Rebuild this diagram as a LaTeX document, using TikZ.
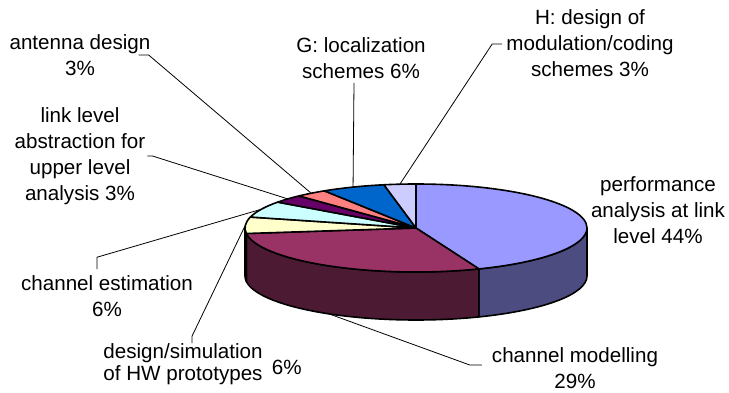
\documentclass[tikz,border=0pt]{standalone}
\usepackage{fontspec}
\setmainfont{Liberation Sans}
\usetikzlibrary{positioning}
\definecolor{perfTop}{HTML}{9999FF}
\definecolor{perfSide}{HTML}{4C4C80}
\definecolor{chmodTop}{HTML}{993366}
\definecolor{chmodSide}{HTML}{4C1A33}
\definecolor{hwTop}{HTML}{FFFFCC}
\definecolor{hwSide}{HTML}{808066}
\definecolor{chestTop}{HTML}{CCFFFF}
\definecolor{linkTop}{HTML}{660066}
\definecolor{antTop}{HTML}{FF8080}
\definecolor{locTop}{HTML}{0066CC}
\definecolor{modTop}{HTML}{CCCCFF}
\tikzset{
    lbl/.style ={font=\fontsize{20.6}{26}\selectfont, align=center, inner sep=0pt},
    lead/.style ={line width=0.8pt, draw=black},
    slice/.style ={line width=1.6pt, draw=black, line join=round},
    ell/.style ={x radius=171, y radius=44}
}
\begin{document}
\begin{tikzpicture}[x=1pt,y=1pt]
        \useasboundingbox (0,0) rectangle (729,392);
        % sides
        \filldraw[slice,fill=perfSide] (587,164) arc[ell,start angle=0,end angle=-68.4] -- ++(0,-48) arc[ell,start angle=-68.4,end angle=0] -- cycle;
        \filldraw[slice,fill=chmodSide] ({416+171*cos(-68.4)},{164+44*sin(-68.4)}) arc[ell,start angle=-68.4,end angle=-172.8] -- ++(0,-48) arc[ell,start angle=-172.8,end angle=-68.4] -- cycle;
        \filldraw[slice,fill=hwSide] ({416+171*cos(-172.8)},{164+44*sin(-172.8)}) arc[ell,start angle=-172.8,end angle=-180] -- ++(0,-48) arc[ell,start angle=-180,end angle=-172.8] -- cycle;
        % tops
        \filldraw[slice,fill=perfTop] (416,164) -- (416,208) arc[ell,start angle=90,end angle=-68.4] -- cycle;
        \filldraw[slice,fill=chmodTop] (416,164) -- ({416+171*cos(-68.4)},{164+44*sin(-68.4)}) arc[ell,start angle=-68.4,end angle=-172.8] -- cycle;
        \filldraw[slice,fill=hwTop] (416,164) -- ({416+171*cos(187.2)},{164+44*sin(187.2)}) arc[ell,start angle=187.2,end angle=165.6] -- cycle;
        \filldraw[slice,fill=chestTop] (416,164) -- ({416+171*cos(165.6)},{164+44*sin(165.6)}) arc[ell,start angle=165.6,end angle=144] -- cycle;
        \filldraw[slice,fill=linkTop] (416,164) -- ({416+171*cos(144)},{164+44*sin(144)}) arc[ell,start angle=144,end angle=133.2] -- cycle;
        \filldraw[slice,fill=antTop] (416,164) -- ({416+171*cos(133.2)},{164+44*sin(133.2)}) arc[ell,start angle=133.2,end angle=122.4] -- cycle;
        \filldraw[slice,fill=locTop] (416,164) -- ({416+171*cos(122.4)},{164+44*sin(122.4)}) arc[ell,start angle=122.4,end angle=100.8] -- cycle;
        \filldraw[slice,fill=modTop] (416,164) -- ({416+171*cos(100.8)},{164+44*sin(100.8)}) arc[ell,start angle=100.8,end angle=90] -- cycle;
        % leader ends
        \coordinate (antpt) at ({416+171*cos(127.8)},{164+44*sin(127.8)});
        \coordinate (linkpt) at ({416+171*cos(138.6)},{164+44*sin(138.6)});
        \coordinate (locpt) at ({416+171*cos(111.6)},{164+44*sin(111.6)});
        \coordinate (modpt) at ({416+171*cos(95.4)},{164+44*sin(95.4)});
        \coordinate (chestpt) at ({416+171*cos(154.8)},{164+44*sin(154.8)});
        \coordinate (hwpt) at ({416+171*cos(176.4)},{164+44*sin(176.4)});
        \coordinate (chmodpt) at ({416+171*cos(-120.6)},{164-48+44*sin(-120.6)});
        % labels
        \node[lbl] (ant) at (80,337) {antenna design\\3\%};
        \node[lbl] (link) at (80,236) {link level\\abstraction for\\upper level\\analysis 3\%};
        \node[lbl] (loc) at (361,334) {G: localization\\schemes 6\%};
        \node[lbl] (mod) at (590,349) {H: design of\\modulation/coding\\schemes 3\%};
        \node[lbl] (perf) at (658,182) {performance\\analysis at link\\level 44\%};
        \node[lbl] (chest) at (107,96) {channel estimation\\6\%};
        \node[lbl,font=\fontsize{20.6}{22}\selectfont] (hw) at (183,28) {design/simulation\\of HW prototypes};
        \node[lbl,right=9pt of hw,yshift=-3pt] (hwpct) {6\%};
        \node[lbl] (chmod) at (575,24) {channel modelling\\29\%};
        % leader lines
        \draw[lead] ([xshift=-12pt]ant.east) -- ([xshift=-2pt]ant.east) -- (antpt);
        \draw[lead] ([xshift=2pt]link.east) -- ([xshift=7pt]link.east) -- (linkpt);
        \draw[lead] ([xshift=-7pt,yshift=-4pt]loc.south) -- (locpt);
        \draw[lead] ([xshift=-4pt,yshift=-1pt]mod.west) -- ([xshift=-14pt,yshift=-1pt]mod.west) -- (modpt);
        \draw[lead] ([xshift=-10pt,yshift=6pt]chest.north) -- ([xshift=-10pt,yshift=18pt]chest.north) -- (chestpt);
        \draw[lead] ([xshift=9pt]hw.north) -- ([xshift=9pt,yshift=7pt]hw.north) -- (hwpt);
        \draw[lead] ([xshift=-10pt,yshift=3pt]chmod.west) -- ([xshift=-22pt,yshift=3pt]chmod.west) -- (chmodpt);
    \end{tikzpicture}
\end{document}
